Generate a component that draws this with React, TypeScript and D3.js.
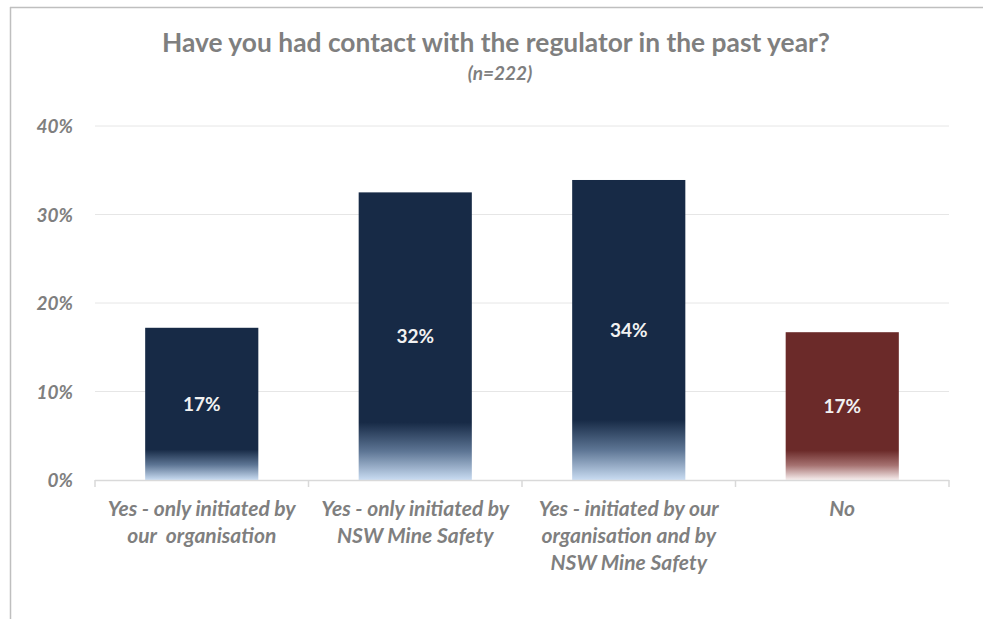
import * as d3 from 'd3'

const categories = [
  ['Yes - only initiated by', 'our  organisation'],
  ['Yes - only initiated by', 'NSW Mine Safety'],
  ['Yes - initiated by our', 'organisation and by', 'NSW Mine Safety'],
  ['No'],
]
const values = [17.2, 32.5, 33.9, 16.7]
const labels = ['17%', '32%', '34%', '17%']
const barKind = ['navy', 'navy', 'navy', 'red']
const yTicks = [0, 10, 20, 30, 40]

const W = 983
const H = 619
const FONT = 'Lato, "Open Sans", sans-serif'
const GREY = '#7f7f7f'

export default function App() {
  const x = d3
    .scaleBand<number>()
    .domain(d3.range(categories.length))
    .range([95, 949])
    .paddingInner(0.47)
    .paddingOuter(0.235)
  const y = d3.scaleLinear().domain([0, 40]).range([480, 126])

  // category boundary ticks
  const step = x.step()
  const bounds = d3.range(categories.length + 1).map((i) => 95 + i * step)

  return (
    <svg
      width={W}
      height={H}
      style={{ position: 'absolute', left: 0, top: 0, background: '#fff' }}
    >
      <defs>
        <linearGradient id="g-navy" x1="0" y1="0" x2="0" y2="1">
          <stop offset="0" stopColor="#172a46" />
          <stop offset="0.8" stopColor="#172a46" />
          <stop offset="0.9" stopColor="#5d7594" />
          <stop offset="1" stopColor="#c9dcf2" />
        </linearGradient>
        <linearGradient id="g-red" x1="0" y1="0" x2="0" y2="1">
          <stop offset="0" stopColor="#6b2a29" />
          <stop offset="0.8" stopColor="#6b2a29" />
          <stop offset="0.9" stopColor="#a57170" />
          <stop offset="1" stopColor="#f7eeee" />
        </linearGradient>
      </defs>

      {/* frame */}
      <line x1={10} x2={W} y1={7.5} y2={7.5} stroke="#bfbfbf" strokeWidth={1.5} />
      <line x1={10.5} x2={10.5} y1={7} y2={H} stroke="#bfbfbf" strokeWidth={1.5} />

      {/* title */}
      <text
        x={496}
        y={52}
        textAnchor="middle"
        fontFamily={FONT}
        fontWeight={700}
        fontSize={26}
        fill={GREY}
        textLength={668}
        lengthAdjust="spacingAndGlyphs"
      >
        Have you had contact with the regulator in the past year?
      </text>
      <text
        x={500}
        y={80}
        textAnchor="middle"
        fontFamily={FONT}
        fontWeight={700}
        fontStyle="italic"
        fontSize={19}
        fill={GREY}
      >
        (n=222)
      </text>

      {/* gridlines + y labels */}
      {yTicks.map((t) => (
        <g key={t}>
          {t > 0 && (
            <line x1={95} x2={949} y1={y(t)} y2={y(t)} stroke="#e6e6e6" strokeWidth={1} />
          )}
          <text
            x={73}
            y={y(t) + 7}
            textAnchor="end"
            fontFamily={FONT}
            fontWeight={700}
            fontStyle="italic"
            fontSize={19}
            fill={GREY}
          >
            {t}%
          </text>
        </g>
      ))}

      {/* bars */}
      {values.map((v, i) => (
        <g key={i}>
          <rect
            x={x(i)}
            y={y(v)}
            width={x.bandwidth()}
            height={y(0) - y(v)}
            fill={barKind[i] === 'red' ? 'url(#g-red)' : 'url(#g-navy)'}
          />
          <text
            x={(x(i) ?? 0) + x.bandwidth() / 2}
            y={(y(v) + y(0)) / 2 + 7}
            textAnchor="middle"
            fontFamily={FONT}
            fontWeight={700}
            fontSize={19}
            fill="#f2f2f2"
          >
            {labels[i]}
          </text>
        </g>
      ))}

      {/* x axis */}
      <line x1={95} x2={949} y1={480.5} y2={480.5} stroke="#d9d9d9" strokeWidth={1.5} />
      {bounds.map((b, i) => (
        <line key={i} x1={b} x2={b} y1={480} y2={487} stroke="#d9d9d9" strokeWidth={1.5} />
      ))}

      {categories.map((lines, i) => (
        <text
          key={i}
          x={(x(i) ?? 0) + x.bandwidth() / 2}
          y={516}
          textAnchor="middle"
          fontFamily={FONT}
          fontWeight={700}
          fontStyle="italic"
          fontSize={21}
          fill={GREY}
          style={{ whiteSpace: 'pre' }}
        >
          {lines.map((l, j) => (
            <tspan key={j} x={(x(i) ?? 0) + x.bandwidth() / 2} dy={j === 0 ? 0 : 27}>
              {l}
            </tspan>
          ))}
        </text>
      ))}
    </svg>
  )
}
